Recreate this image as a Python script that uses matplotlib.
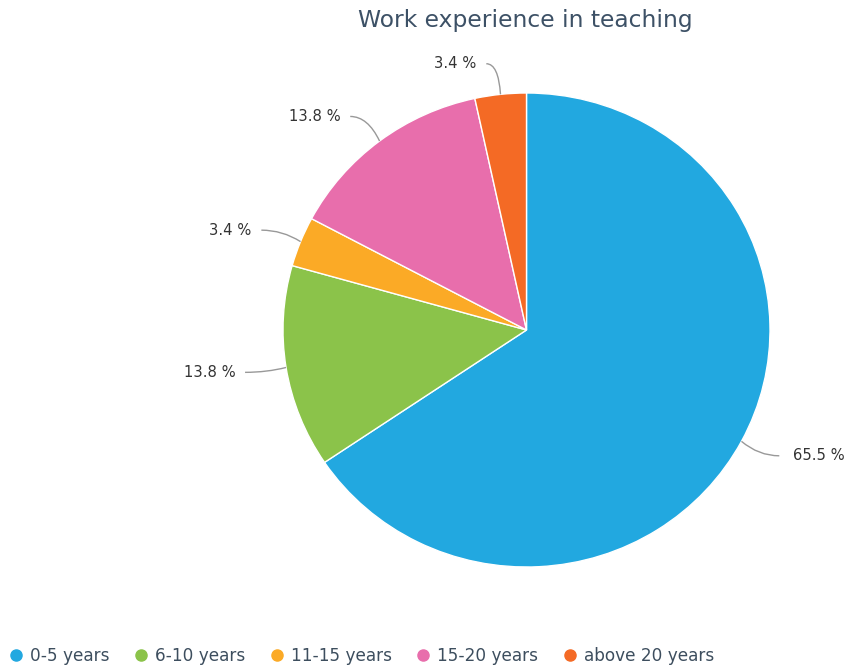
import numpy as np
import matplotlib
matplotlib.use("Agg")
import matplotlib.pyplot as plt
from matplotlib.path import Path
from matplotlib.patches import PathPatch
from matplotlib.lines import Line2D

# data
categories = ["0-5 years", "6-10 years", "11-15 years", "15-20 years", "above 20 years"]
values = [65.5, 13.8, 3.4, 13.8, 3.4]
colors = ["#22a8e0", "#8bc34a", "#fbaa26", "#e86eac", "#f46a25"]

W, H = 848, 667
fig = plt.figure(figsize=(W / 100, H / 100), dpi=100)

# pie area in pixels (slightly wider than tall like the original)
left, right, top, bottom = 283, 770, 93, 567
ax = fig.add_axes([left / W, 1 - bottom / H, (right - left) / W, (bottom - top) / H])
wedges, _ = ax.pie(values, colors=colors, startangle=90, counterclock=False,
                   wedgeprops=dict(edgecolor="white", linewidth=1))
ax.set_aspect("auto")
ax.set_xlim(-1, 1)
ax.set_ylim(-1, 1)
ax.axis("off")

# data labels with curved connectors
for w, v in zip(wedges, values):
    a = np.deg2rad((w.theta1 + w.theta2) / 2)
    c, s = np.cos(a), np.sin(a)
    side = 1 if c >= 0 else -1
    ex, ey = c, s
    lx = 1.125 * c + side * 0.045
    ly = 1.13 * s
    cx = 1.08 * c
    path = Path([(ex, ey), (cx, ly), (lx, ly)], [Path.MOVETO, Path.CURVE3, Path.CURVE3])
    ax.add_patch(PathPatch(path, fill=False, edgecolor="#999999", lw=1, clip_on=False))
    ax.annotate(f"{v} %", (lx, ly), xytext=(side * (10 if side > 0 else 7), 0),
                textcoords="offset points",
                ha="left" if side > 0 else "right", va="center",
                fontsize=10.6, color="#333333", annotation_clip=False)

fig.text(525 / W, 1 - 20 / H, "Work experience in teaching", ha="center", va="center",
         fontsize=16.8, color="#3d5166")

handles = [Line2D([], [], marker="o", ls="", markersize=8, markerfacecolor=col,
                  markeredgecolor=col) for col in colors]
fig.legend(handles, categories, loc="center left", bbox_to_anchor=(10 / W, 1 - 656 / H),
           ncol=5, frameon=False, fontsize=12.2, labelcolor="#3d4e5e",
           handlelength=0.69, handletextpad=0.48, columnspacing=1.52, borderpad=0,
           borderaxespad=0)

fig.savefig("out.png", dpi=100)
